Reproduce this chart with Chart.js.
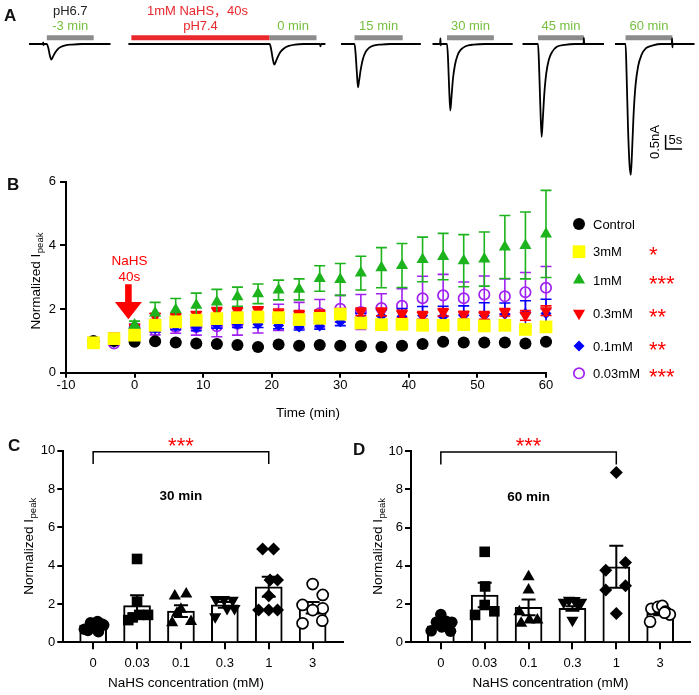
<!DOCTYPE html>
<html>
<head>
<meta charset="utf-8">
<title>NaHS and acid-evoked currents</title>
<script src="https://cdn.jsdelivr.net/npm/chart.js@4.4.1/dist/chart.umd.min.js"></script>
<style>
body { margin: 0; background: #fff; }
#fig { position: relative; width: 699px; height: 695px; overflow: hidden; }
#fig canvas { position: absolute; }
.tag { position: absolute; font: bold 17px "Liberation Sans", Arial, sans-serif; line-height: 1; color: #111; }
</style>
</head>
<body>
<div id="fig">
  <canvas id="cA" width="699" height="182" style="left:0;top:0"></canvas>
  <canvas id="cB" width="699" height="262" style="left:0;top:170px"></canvas>
  <canvas id="cC" width="350" height="265" style="left:0;top:430px"></canvas>
  <canvas id="cD" width="349" height="265" style="left:350px;top:430px"></canvas>
  <div class="tag" style="left:4px;top:7px">A</div>
  <div class="tag" style="left:7px;top:176px">B</div>
  <div class="tag" style="left:8px;top:437px">C</div>
  <div class="tag" style="left:353px;top:441px">D</div>
</div>
<script>
const FONT = '"Liberation Sans", Arial, "Noto Sans CJK SC", sans-serif';
Chart.defaults.font.family = FONT;
Chart.defaults.font.size = 13;
Chart.defaults.color = '#000';
Chart.defaults.animation = false;
Chart.defaults.responsive = false;
Chart.defaults.plugins.legend.display = false;
Chart.defaults.plugins.tooltip.enabled = false;

// ---------- A: example sweeps, [time s, current nA], time from sweep start
const sweepLabels = ['-3 min', '0 min', '15 min', '30 min', '45 min', '60 min'];
const sweep1 = [[0,0],[4.2,0],[4.3,0.06],[4.4,-0.04],[4.5,0],[5.4,0],[5.8,-0.12],[6.3,-0.4],[6.75,-0.56],[7.2,-0.47],[7.8,-0.33],[8.6,-0.2],[9.6,-0.11],[11,-0.05],[13,-0.02],[16,0],[24.7,0]];
const sweep2 = [[0,0],[42.8,0],[43.2,-0.15],[43.7,-0.5],[44.2,-0.74],[44.7,-0.62],[45.3,-0.45],[46.1,-0.28],[47.2,-0.15],[48.6,-0.07],[50.5,-0.02],[53,0],[58,0],[58.2,-0.08],[58.4,0],[59.7,0]];
const sweep3 = [[0,0],[4.1,0],[4.4,-0.3],[4.8,-1.0],[5.15,-1.55],[5.5,-1.3],[6.0,-0.9],[6.6,-0.55],[7.4,-0.3],[8.4,-0.15],[9.8,-0.06],[12,-0.02],[15,0],[24.2,0]];
const sweep4 = [[0,0],[2.3,0],[2.4,0.2],[2.5,-0.05],[2.6,0],[4.4,0],[4.7,-0.5],[5.05,-1.6],[5.4,-2.38],[5.75,-1.9],[6.2,-1.25],[6.8,-0.75],[7.6,-0.4],[8.6,-0.2],[10,-0.08],[12.5,-0.02],[16,0],[24.3,0]];
const sweep5 = [[0,0],[4.7,0],[5.0,-0.7],[5.4,-2.2],[5.8,-3.32],[6.15,-2.7],[6.6,-1.8],[7.2,-1.05],[8.0,-0.55],[9.0,-0.28],[10.4,-0.1],[12.8,-0.03],[16,0],[18.5,0],[18.6,0.22],[18.7,0],[24.7,0]];
const sweep6 = [[0,0],[3.2,0],[3.5,-1.0],[3.95,-3.0],[4.4,-4.3],[4.8,-4.67],[5.15,-3.9],[5.6,-2.6],[6.2,-1.5],[7.0,-0.8],[8.0,-0.4],[9.4,-0.15],[11.5,-0.05],[14,0],[17.2,0],[17.3,0.2],[17.4,-0.12],[17.5,0],[24.1,0]];
const sweeps = [sweep1, sweep2, sweep3, sweep4, sweep5, sweep6];
const acidPulse = [[5.4,19.6],[42.8,57],[4.1,18.7],[4.4,18.6],[4.7,18.6],[3.2,17.4]]; // gray bars, s
const nahsPulse = [0.9, 42.8];  // red bar on sweep 2, s
const scaleBar = [5, 0.5];      // s, nA

// A layout (shared time axis, s / nA)
const sweepStart = [8.79, 38.91, 103.33, 131.06, 158.33, 186.36];
const pulseLevel = 0.225, labelRow1 = 1.16, labelRow2 = 0.64;
const scaleBarAt = [201.7, -3.75];

// ---------- B: normalized peak vs time
const bTimes = [-6,-3,0,3,6,9,12,15,18,21,24,27,30,33,36,39,42,45,48,51,54,57,60];
const seriesNames = ['Control', '3mM', '1mM', '0.3mM', '0.1mM', '0.03mM'];
const seriesStars = ['', '*', '***', '**', '**', '***'];
const ctrlMean = [1.0,1.0,0.97,0.99,0.95,0.92,0.90,0.87,0.81,0.89,0.85,0.87,0.85,0.84,0.81,0.85,0.90,0.97,0.95,0.95,0.95,0.92,0.97];
const ctrlSem  = [0.02,0.03,0.03,0.03,0.03,0.03,0.03,0.03,0.03,0.03,0.03,0.03,0.03,0.03,0.03,0.03,0.03,0.03,0.03,0.03,0.03,0.03,0.03];
const mM3Mean  = [0.94,1.07,1.18,1.49,1.60,1.65,1.70,1.73,1.75,1.73,1.67,1.71,1.84,1.56,1.51,1.52,1.49,1.49,1.51,1.47,1.49,1.36,1.44];
const mM3Sem   = [0.03,0.05,0.08,0.1,0.1,0.1,0.1,0.12,0.12,0.12,0.12,0.12,0.15,0.12,0.12,0.1,0.1,0.1,0.1,0.1,0.12,0.12,0.12];
const mM1Mean  = [0.95,1.02,1.5,1.88,1.98,2.12,2.22,2.39,2.48,2.6,2.62,2.96,2.93,3.13,3.3,3.37,3.56,3.65,3.52,3.57,3.95,4.0,4.36];
const mM1Sem   = [0.03,0.05,0.12,0.33,0.35,0.38,0.4,0.3,0.31,0.31,0.33,0.4,0.5,0.53,0.63,0.69,0.7,0.73,0.82,0.85,0.99,1.05,1.37];
const mM03Mean = [1.0,1.15,1.43,1.77,1.75,1.82,1.93,1.93,1.95,1.88,1.83,1.85,1.9,1.91,1.91,1.84,1.8,1.9,1.81,1.8,1.9,1.8,1.95];
const mM03Sem  = [0.03,0.04,0.08,0.1,0.1,0.1,0.12,0.12,0.12,0.12,0.12,0.12,0.12,0.12,0.12,0.12,0.12,0.12,0.12,0.12,0.12,0.15,0.15];
const mM01Mean = [1.0,0.95,1.42,1.38,1.45,1.42,1.5,1.52,1.52,1.48,1.44,1.47,1.6,1.72,1.78,1.77,1.8,1.77,1.8,1.8,1.84,1.86,1.86];
const mM01Sem  = [0.03,0.05,0.1,0.1,0.1,0.1,0.1,0.1,0.1,0.1,0.1,0.1,0.12,0.15,0.2,0.25,0.28,0.32,0.3,0.4,0.35,0.4,0.45];
const mM003Mean = [0.95,0.92,1.4,1.34,1.44,1.44,1.46,1.54,1.66,1.74,1.8,1.87,2.01,1.91,2.03,2.1,2.34,2.43,2.34,2.46,2.4,2.53,2.67];
const mM003Sem  = [0.03,0.05,0.1,0.15,0.2,0.26,0.33,0.36,0.41,0.41,0.41,0.43,0.42,0.55,0.45,0.54,0.69,0.66,0.51,0.58,0.55,0.62,0.67];
const bMeans = [ctrlMean, mM3Mean, mM1Mean, mM03Mean, mM01Mean, mM003Mean];
const bSems  = [ctrlSem, mM3Sem, mM1Sem, mM03Sem, mM01Sem, mM003Sem];

// ---------- C / D: individual cells at 30 and 60 min
const concLabels = ['0', '0.03', '0.1', '0.3', '1', '3'];
const c30Mean = [0.9, 1.91, 1.63, 1.95, 2.9, 1.8];
const c30Sem  = [0.08, 0.54, 0.31, 0.15, 0.52, 0.3];
const c30Cells = [
  [0.68,1.02,1.08,0.95,0.62,0.55,0.82,0.9],
  [4.35,2.12,1.16,1.43,1.43,1.3],
  [2.42,2.52,1.51,1.72,1.02,1.08],
  [2.24,2.24,2.2,1.34,1.77,1.77],
  [4.87,4.87,3.25,3.25,2.43,1.69,1.69,1.69],
  [3.04,2.47,1.95,1.77,1.68,0.99,1.13]
];
const c60Mean = [0.85, 2.47, 1.83, 1.77, 3.95, 1.51];
const c60Sem  = [0.1, 0.64, 0.41, 0.12, 1.1, 0.1];
const c60Cells = [
  [0.6,1.45,1.05,1.1,1.05,0.58,0.8],
  [4.73,2.92,1.95,1.43,1.62],
  [3.43,2.73,1.6,0.99,1.17,1.17],
  [2.1,2.2,2.18,2.1,1.15,1.95],
  [8.87,4.17,3.77,2.73,2.96,1.51],
  [1.08,1.75,1.85,1.9,1.6,1.45,1.55]
];
// horizontal scatter of the dots (category units)
const c30Jitter = [
  [-0.2,-0.06,0.1,0.2,-0.12,0.12,0.0,0.24],
  [0.0,0.0,-0.2,0.05,0.25,-0.1],
  [-0.14,0.12,-0.09,0.0,-0.2,0.23],
  [-0.2,-0.02,0.18,-0.22,0.05,0.22],
  [-0.14,0.11,0.03,0.2,0.0,-0.23,0.0,0.2],
  [0.0,0.23,-0.23,0.23,0.0,-0.23,0.22]
];
const c60Jitter = [
  [-0.22,0.0,-0.1,0.12,0.25,0.22,0.02],
  [0.0,0.01,0.0,-0.22,0.22],
  [0.0,0.0,-0.21,-0.17,0.02,0.2],
  [-0.2,-0.08,0.05,0.2,0.0,0.13],
  [0.0,0.21,-0.24,-0.24,0.21,0.0],
  [-0.23,-0.2,-0.05,0.05,0.12,0.22,0.1]
];

// ---------- styles
const RED = '#ff0000', GREEN_TXT = '#76bf3f';
const bStyle = [
  {color:'#000', fill:'#000', pointStyle:'circle', radius:6},
  {color:'#ffff00', fill:'#ffff00', pointStyle:'rect', radius:9},
  {color:'#1db31d', fill:'#1db31d', pointStyle:'triangle', radius:7},
  {color:'#ff0000', fill:'#ff0000', pointStyle:'triangle', radius:7, rotation:180},
  {color:'#0000ff', fill:'#0000ff', pointStyle:'rectRot', radius:5.5},
  {color:'#a020f0', fill:'rgba(0,0,0,0)', pointStyle:'circle', radius:5.2, borderWidth:1.7}
];
const bDrawOrder = [1, 0, 2, 3, 4, 5];
const concStyle = [
  {pointStyle:'circle', radius:5.8},
  {pointStyle:'rect', radius:7.5},
  {pointStyle:'triangle', radius:7},
  {pointStyle:'triangle', radius:7, rotation:180},
  {pointStyle:'rectRot', radius:6.5},
  {pointStyle:'circle', radius:5.5, fill:'#fff', borderWidth:1.7}
];

function axisOpts(extra) {
  return Object.assign({
    grid: {drawOnChartArea: false, color: '#000', lineWidth: 2, tickLength: 6},
    border: {color: '#000', width: 2}
  }, extra);
}

function yTitle(ctx, cx, cy) {
  ctx.save();
  ctx.translate(cx, cy);
  ctx.rotate(-Math.PI / 2);
  const big = '13.5px ' + FONT, small = '9.5px ' + FONT;
  ctx.font = big; const w1 = ctx.measureText('Normalized I').width;
  ctx.font = small; const w2 = ctx.measureText('peak').width;
  const x0 = -(w1 + w2) / 2;
  ctx.fillStyle = '#000'; ctx.textAlign = 'left'; ctx.textBaseline = 'alphabetic';
  ctx.font = big; ctx.fillText('Normalized I', x0, 5);
  ctx.font = small; ctx.fillText('peak', x0 + w1 + 0.5, 8);
  ctx.restore();
}

function drawStars(ctx, text, x, baseline, align) {
  ctx.save();
  ctx.font = '22px ' + FONT; ctx.fillStyle = RED;
  ctx.textAlign = align; ctx.textBaseline = 'alphabetic';
  ctx.fillText(text, x, baseline);
  ctx.restore();
}

// ================= Panel A =================
const aSets = [];
sweeps.forEach((sw, k) => {
  aSets.push({data: sw.map(p => ({x: sweepStart[k] + p[0], y: p[1]})),
    borderColor: '#000', borderWidth: 1.8, pointRadius: 0, cubicInterpolationMode: 'monotone'});
  aSets.push({data: acidPulse[k].map(t => ({x: sweepStart[k] + t, y: pulseLevel})),
    borderColor: '#8c8c8c', borderWidth: 5, borderCapStyle: 'butt', pointRadius: 0});
});
aSets.push({data: nahsPulse.map(t => ({x: sweepStart[1] + t, y: pulseLevel})),
  borderColor: '#e8282c', borderWidth: 5, borderCapStyle: 'butt', pointRadius: 0});
aSets.push({data: [{x: scaleBarAt[0], y: scaleBarAt[1] + scaleBar[1]}, {x: scaleBarAt[0], y: scaleBarAt[1]},
  {x: scaleBarAt[0] + scaleBar[0], y: scaleBarAt[1]}], borderColor: '#000', borderWidth: 1.5, pointRadius: 0});

const labelsA = {
  id: 'labelsA',
  afterDatasetsDraw(chart) {
    const {ctx, scales: {x, y}} = chart;
    ctx.save();
    ctx.font = '13px ' + FONT; ctx.textAlign = 'center'; ctx.textBaseline = 'middle';
    sweepLabels.forEach((lab, k) => {
      const p = acidPulse[k];
      ctx.fillStyle = GREEN_TXT;
      ctx.fillText(lab, x.getPixelForValue(sweepStart[k] + (p[0] + p[1]) / 2), y.getPixelForValue(labelRow2));
    });
    const c0 = x.getPixelForValue(sweepStart[0] + (acidPulse[0][0] + acidPulse[0][1]) / 2);
    ctx.fillStyle = '#222';
    ctx.fillText('pH6.7', c0, y.getPixelForValue(labelRow1));
    const cn = x.getPixelForValue(sweepStart[1] + (nahsPulse[0] + nahsPulse[1]) / 2);
    ctx.fillStyle = '#e8282c';
    ctx.fillText('1mM NaHS，40s', cn - 3, y.getPixelForValue(labelRow1));
    ctx.fillText('pH7.4', cn, y.getPixelForValue(labelRow2));
    const sx = x.getPixelForValue(scaleBarAt[0]);
    const sy = y.getPixelForValue(scaleBarAt[1] + scaleBar[1] / 2);
    ctx.fillStyle = '#000';
    ctx.textAlign = 'left';
    ctx.fillText('5s', sx + 3, sy - 2);
    ctx.translate(sx - 10, sy);
    ctx.rotate(-Math.PI / 2);
    ctx.textAlign = 'center';
    ctx.fillText('0.5nA', 0, 0);
    ctx.restore();
  }
};

new Chart(document.getElementById('cA'), {
  type: 'line',
  data: {datasets: aSets},
  options: {
    layout: {padding: 0},
    scales: {
      x: {type: 'linear', display: false, min: 0, max: 699 / 3.3},
      y: {type: 'linear', display: false, min: -138 / 28, max: 44 / 28}
    }
  },
  plugins: [labelsA]
});

// ================= Panel B =================
const errB = {
  id: 'errB',
  beforeDatasetDraw(chart, args) {
    const i = args.index;
    const {ctx, scales: {x, y}} = chart;
    ctx.save();
    ctx.strokeStyle = bStyle[i].color; ctx.lineWidth = 1.6;
    bTimes.forEach((t, j) => {
      const px = x.getPixelForValue(t);
      const y1 = y.getPixelForValue(bMeans[i][j] + bSems[i][j]);
      const y2 = y.getPixelForValue(bMeans[i][j] - bSems[i][j]);
      ctx.beginPath();
      ctx.moveTo(px, y1); ctx.lineTo(px, y2);
      ctx.moveTo(px - 5.5, y1); ctx.lineTo(px + 5.5, y1);
      ctx.moveTo(px - 5.5, y2); ctx.lineTo(px + 5.5, y2);
      ctx.stroke();
    });
    ctx.restore();
  }
};

const decoB = {
  id: 'decoB',
  afterDraw(chart) {
    const {ctx, chartArea: a, scales: {x, y}} = chart;
    yTitle(ctx, 35, (a.top + a.bottom) / 2 + 4);
    ctx.save();
    ctx.font = '13.5px ' + FONT; ctx.fillStyle = '#000';
    ctx.textAlign = 'center'; ctx.textBaseline = 'middle';
    ctx.fillText('Time (min)', (a.left + a.right) / 2 + 2, a.bottom + 41);
    // NaHS arrow
    const ax = x.getPixelForValue(-0.9);
    const yTop = y.getPixelForValue(2.78), yHead = y.getPixelForValue(2.22), yTip = y.getPixelForValue(1.68);
    ctx.fillStyle = RED;
    ctx.beginPath();
    ctx.moveTo(ax - 3.3, yTop); ctx.lineTo(ax + 3.3, yTop); ctx.lineTo(ax + 3.3, yHead);
    ctx.lineTo(ax + 13.5, yHead); ctx.lineTo(ax, yTip); ctx.lineTo(ax - 13.5, yHead);
    ctx.lineTo(ax - 3.3, yHead); ctx.closePath(); ctx.fill();
    ctx.font = '13.5px ' + FONT;
    ctx.fillText('NaHS', ax + 1, y.getPixelForValue(3.5));
    ctx.fillText('40s', ax + 1, y.getPixelForValue(2.99));
    // legend
    const rows = [54, 81.7, 110, 143.3, 176, 203.3];
    seriesNames.forEach((name, i) => {
      const st = bStyle[i];
      ctx.fillStyle = st.fill; ctx.strokeStyle = st.color; ctx.lineWidth = st.borderWidth || 0;
      Chart.helpers.drawPoint(ctx, {pointStyle: st.pointStyle, radius: st.radius, rotation: st.rotation || 0,
        borderWidth: st.borderWidth || 0}, a.right + 33, rows[i]);
      ctx.fillStyle = '#000'; ctx.textAlign = 'left'; ctx.textBaseline = 'middle';
      ctx.font = '13px ' + FONT;
      ctx.fillText(name, a.right + 47, rows[i] + 1);
      if (seriesStars[i]) drawStars(ctx, seriesStars[i], a.right + 103, rows[i] + 10.5, 'left');
    });
    ctx.restore();
  }
};

new Chart(document.getElementById('cB'), {
  type: 'scatter',
  data: {
    datasets: seriesNames.map((name, i) => ({
      label: name,
      data: bTimes.map((t, j) => ({x: t, y: bMeans[i][j]})),
      pointStyle: bStyle[i].pointStyle,
      pointRadius: bStyle[i].radius,
      pointRotation: bStyle[i].rotation || 0,
      pointBackgroundColor: bStyle[i].fill,
      pointBorderColor: bStyle[i].color,
      pointBorderWidth: bStyle[i].borderWidth || 0,
      order: bDrawOrder[i],
      clip: false
    }))
  },
  options: {
    layout: {padding: {left: 0, right: 153, top: 11, bottom: 0}},
    scales: {
      x: axisOpts({type: 'linear', min: -10, max: 60,
        ticks: {stepSize: 10, padding: 0},
        grid: {drawOnChartArea: false, color: '#000', lineWidth: 2, tickLength: 5},
        afterFit(s) { s.height = 59.3; }}),
      y: axisOpts({type: 'linear', min: 0, max: 6,
        ticks: {stepSize: 2, padding: 4},
        afterFit(s) { s.width = 66; }})
    }
  },
  plugins: [errB, decoB]
});

// ================= Panels C, D =================
function concChart(id, means, sems, cells, jitter, caption, geo) {
  const errC = {
    id: 'errC',
    afterDatasetDraw(chart, args) {
      if (args.index !== 0) return;
      const {ctx, scales: {x, y}} = chart;
      ctx.save();
      ctx.strokeStyle = '#000'; ctx.lineWidth = 2;
      means.forEach((m, i) => {
        const px = x.getPixelForValue(i);
        const y1 = y.getPixelForValue(m + sems[i]), y2 = y.getPixelForValue(m - sems[i]);
        ctx.beginPath();
        ctx.moveTo(px, y1); ctx.lineTo(px, y2);
        ctx.moveTo(px - 7, y1); ctx.lineTo(px + 7, y1);
        ctx.moveTo(px - 7, y2); ctx.lineTo(px + 7, y2);
        ctx.stroke();
      });
      ctx.restore();
    }
  };
  const decoC = {
    id: 'decoC',
    afterDraw(chart) {
      const {ctx, chartArea: a, scales: {x, y}} = chart;
      yTitle(ctx, geo.titleX, (a.top + a.bottom) / 2);
      ctx.save();
      // significance bracket 0 vs 1 mM
      const x0 = x.getPixelForValue(0), x1 = x.getPixelForValue(4);
      const yb = y.getPixelForValue(9.95), ye = y.getPixelForValue(9.3);
      ctx.strokeStyle = '#000'; ctx.lineWidth = 1.5;
      ctx.beginPath();
      ctx.moveTo(x0, ye); ctx.lineTo(x0, yb); ctx.lineTo(x1, yb); ctx.lineTo(x1, ye);
      ctx.stroke();
      drawStars(ctx, '***', x.getPixelForValue(2), a.top + 2, 'center');
      ctx.fillStyle = '#000'; ctx.textAlign = 'center'; ctx.textBaseline = 'middle';
      ctx.font = 'bold 13.5px ' + FONT;
      ctx.fillText(caption, x.getPixelForValue(2), y.getPixelForValue(7.6));
      ctx.font = '13.5px ' + FONT;
      ctx.fillText('NaHS concentration (mM)', (a.left + a.right) / 2 + geo.titleDx, a.bottom + 41);
      ctx.restore();
    }
  };
  return new Chart(document.getElementById(id), {
    type: 'scatter',
    data: {
      datasets: [
        {type: 'bar', data: means.map((m, i) => ({x: i, y: m})),
          backgroundColor: '#fff', borderColor: '#000', borderWidth: 2, barThickness: 27, order: 10}
      ].concat(cells.map((g, k) => ({
        type: 'scatter',
        data: g.map((v, j) => ({x: k + jitter[k][j], y: v})),
        pointStyle: concStyle[k].pointStyle,
        pointRadius: concStyle[k].radius,
        pointRotation: concStyle[k].rotation || 0,
        pointBackgroundColor: concStyle[k].fill || '#000',
        pointBorderColor: '#000',
        pointBorderWidth: concStyle[k].borderWidth || 0,
        order: 1,
        clip: false
      })))
    },
    options: {
      layout: {padding: {left: 0, right: geo.padRight, top: geo.padTop, bottom: 0}},
      scales: {
        x: axisOpts({type: 'linear', min: -0.68, max: 5.68, offset: false,
          afterBuildTicks(s) { s.ticks = concLabels.map((_, i) => ({value: i})); },
          ticks: {callback: v => concLabels[v], padding: 6, autoSkip: false, maxRotation: 0},
          grid: {drawOnChartArea: false, color: '#000', lineWidth: 2, tickLength: 7, offset: false},
          afterFit(s) { s.height = geo.xH; }}),
        y: axisOpts({type: 'linear', min: 0, max: 10,
          ticks: {stepSize: 2, padding: 2},
          afterFit(s) { s.width = geo.yW; }})
      }
    },
    plugins: [errC, decoC]
  });
}

concChart('cC', c30Mean, c30Sem, c30Cells, c30Jitter, '30 min',
  {padRight: 7, padTop: 20.7, xH: 52.7, yW: 63.3, titleX: 27.7, titleDx: -17});
concChart('cD', c60Mean, c60Sem, c60Cells, c60Jitter, '60 min',
  {padRight: 9, padTop: 21, xH: 52.7, yW: 61, titleX: 26.7, titleDx: 0});
</script>
</body>
</html>
